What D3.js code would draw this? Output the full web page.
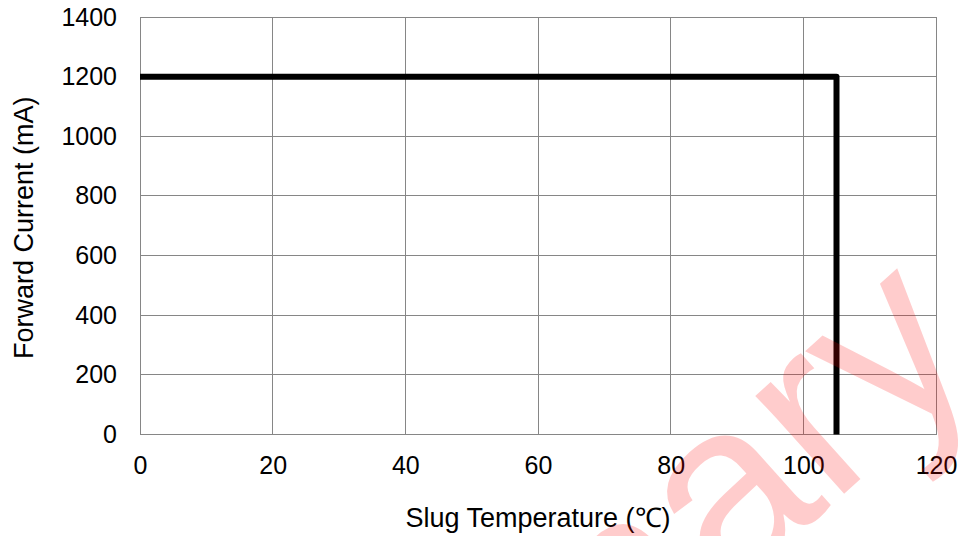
<!DOCTYPE html>
<html>
<head>
<meta charset="utf-8">
<script src="https://cdn.jsdelivr.net/npm/d3@7"></script>
<style>
  body { margin: 0; background: #fff; }
  text { font-family: "Liberation Sans", Arial, sans-serif; }
</style>
</head>
<body>
<div id="chart"></div>
<script>
// Data
const temps = [0, 105, 105]        // Slug temperature (°C)
const currents = [1200, 1200, 0]   // Forward current (mA)
const xTicks = [0, 20, 40, 60, 80, 100, 120]
const yTicks = [0, 200, 400, 600, 800, 1000, 1200, 1400]

const points = temps.map((t, i) => ({ t: t, c: currents[i] }))

// Dimensions
const width = 962
const height = 536
const margin = { top: 17, right: 26, bottom: 101.5, left: 140 }
const ctrWidth = width - margin.left - margin.right
const ctrHeight = height - margin.top - margin.bottom

const svg = d3.select('#chart')
  .append('svg')
  .attr('width', width)
  .attr('height', height)

const ctr = svg.append('g')
  .attr('transform', `translate(${margin.left}, ${margin.top})`)

// Scales
const xScale = d3.scaleLinear()
  .domain([0, 120])
  .range([0, ctrWidth])

const yScale = d3.scaleLinear()
  .domain([0, 1400])
  .range([ctrHeight, 0])

// Grid
ctr.append('g')
  .selectAll('line')
  .data(xTicks)
  .join('line')
  .attr('x1', d => xScale(d)).attr('x2', d => xScale(d))
  .attr('y1', 0).attr('y2', ctrHeight)
  .attr('stroke', '#868686')
  .attr('stroke-width', 1)
  .attr('shape-rendering', 'crispEdges')

ctr.append('g')
  .selectAll('line')
  .data(yTicks)
  .join('line')
  .attr('x1', 0).attr('x2', ctrWidth)
  .attr('y1', d => yScale(d)).attr('y2', d => yScale(d))
  .attr('stroke', '#868686')
  .attr('stroke-width', 1)
  .attr('shape-rendering', 'crispEdges')

// Axes (labels only, lines come from the grid)
const xAxis = d3.axisBottom(xScale)
  .tickValues(xTicks)
  .tickFormat(d3.format('d'))
  .tickSize(0)
  .tickPadding(22)
const xAxisGroup = ctr.append('g')
  .attr('transform', `translate(0, ${ctrHeight})`)
  .call(xAxis)
xAxisGroup.select('.domain').remove()
xAxisGroup.selectAll('text')
  .attr('font-size', 25)
  .attr('font-family', '"Liberation Sans", Arial, sans-serif')
  .attr('fill', '#000')

const yAxis = d3.axisLeft(yScale)
  .tickValues(yTicks)
  .tickFormat(d3.format('d'))
  .tickSize(0)
  .tickPadding(23)
const yAxisGroup = ctr.append('g')
  .call(yAxis)
yAxisGroup.select('.domain').remove()
yAxisGroup.selectAll('text')
  .attr('font-size', 25)
  .attr('font-family', '"Liberation Sans", Arial, sans-serif')
  .attr('fill', '#000')

// Axis titles
svg.append('text')
  .attr('x', margin.left + ctrWidth / 2)
  .attr('y', 527)
  .attr('text-anchor', 'middle')
  .attr('font-size', 27)
  .text('Slug Temperature (℃)')

svg.append('text')
  .attr('transform', `translate(33, ${margin.top + ctrHeight / 2 + 2}) rotate(-90)`)
  .attr('text-anchor', 'middle')
  .attr('font-size', 27)
  .text('Forward Current (mA)')

// Derating line
const lineGenerator = d3.line()
  .x(d => xScale(d.t))
  .y(d => yScale(d.c))

ctr.append('path')
  .datum(points)
  .attr('d', lineGenerator)
  .attr('fill', 'none')
  .attr('stroke', '#000')
  .attr('stroke-width', 6)
  .attr('stroke-linejoin', 'round')

// Watermark
svg.append('text')
  .attr('transform', 'translate(986, 366) rotate(-42)')
  .attr('text-anchor', 'end')
  .attr('font-size', 250)
  .attr('fill', '#ff0000')
  .attr('fill-opacity', 0.2)
  .text('Preliminary')
</script>
</body>
</html>
